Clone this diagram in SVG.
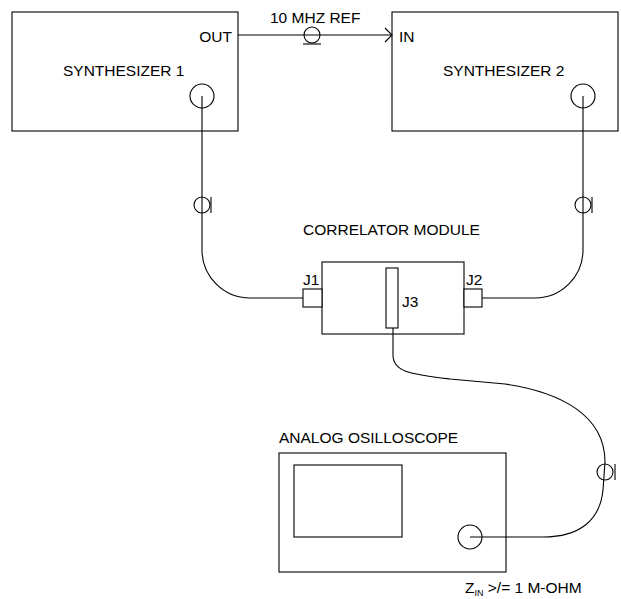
<svg xmlns="http://www.w3.org/2000/svg" width="621" height="599" viewBox="0 0 621 599">
<style>
.box{fill:#fff;stroke:#000;stroke-width:1.1}
.ln{fill:none;stroke:#000;stroke-width:1.1}
text{font-family:"Liberation Sans",Arial,sans-serif;font-size:15.5px;fill:#000}
</style>
<rect width="621" height="599" fill="#fff"/>
<g id="synth1">
<rect class="box" x="12" y="12" width="226" height="119"/>
<text x="232" y="42" text-anchor="end">OUT</text>
<text x="63" y="76">SYNTHESIZER 1</text>
<circle class="ln" cx="202" cy="96" r="12"/>
</g>
<g id="synth2">
<rect class="box" x="392" y="12" width="226" height="119"/>
<text x="399" y="42">IN</text>
<text x="443" y="76">SYNTHESIZER 2</text>
<circle class="ln" cx="583" cy="96" r="12"/>
</g>
<g id="correlator">
<text x="303" y="235">CORRELATOR MODULE</text>
<rect class="box" x="322" y="262" width="142" height="72"/>
<rect class="box" x="303" y="289" width="19" height="18"/>
<rect class="box" x="464" y="289" width="18" height="18"/>
<rect class="box" x="386" y="268" width="12" height="60"/>
<text x="303" y="285">J1</text>
<text x="466" y="285">J2</text>
<text x="402" y="307">J3</text>
</g>
<g id="oscilloscope">
<text x="279" y="443">ANALOG OSILLOSCOPE</text>
<rect class="box" x="279" y="453" width="227" height="119"/>
<rect class="box" x="294" y="465" width="108" height="72"/>
<circle class="ln" cx="470" cy="537" r="12"/>
<text x="465" y="593">Z<tspan font-size="9" dy="3">IN</tspan><tspan dy="-3"> &gt;/= 1 M-OHM</tspan></text>
</g>
<g id="connectors">
<path class="ln" d="M238,35 H392"/>
<path class="ln" d="M385,28 L392,35 L385,42"/>
<circle class="ln" cx="312" cy="35" r="8"/>
<path class="ln" d="M303,44 H321"/>
<text x="270" y="23">10 MHZ REF</text>
<path class="ln" d="M202,96 V250 A48,48 0 0 0 250,298 H303"/>
<circle class="ln" cx="202" cy="205" r="8"/>
<path class="ln" d="M211,197 V213"/>
<path class="ln" d="M583,96 V250 A48,48 0 0 1 535,298 H482"/>
<circle class="ln" cx="583" cy="205" r="8"/>
<path class="ln" d="M592,197 V213"/>
<path class="ln" d="M393,328 V355 C393,372 410,374 450,379 L505,384 C560,392 605,415 605,462 L603,490 C600,520 580,537 543,537 L470,537"/>
<circle class="ln" cx="605" cy="472" r="8"/>
<path class="ln" d="M615,464 V480"/>
</g>
</svg>
